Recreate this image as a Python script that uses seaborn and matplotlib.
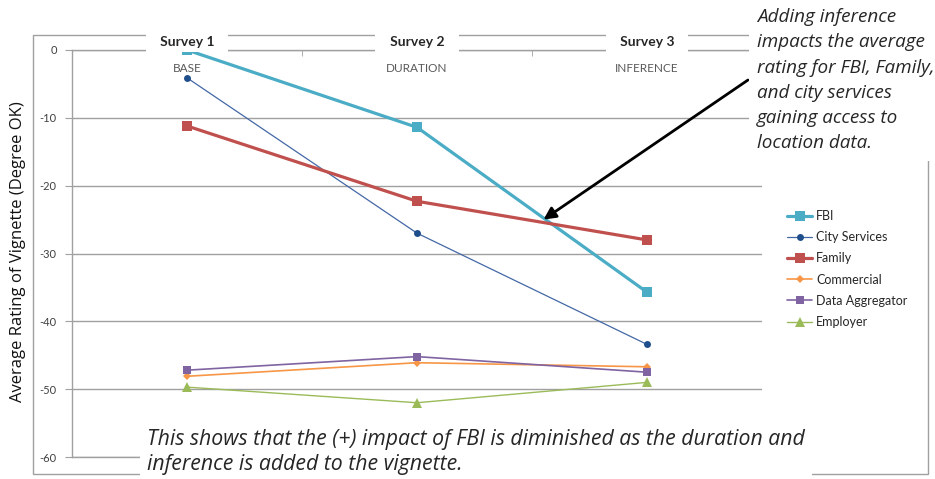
import matplotlib
matplotlib.use("Agg")
import matplotlib.pyplot as plt
import seaborn as sns
import pandas as pd
from matplotlib.patches import Rectangle

# data
categories = ["BASE", "DURATION", "INFERENCE"]
surveys = ["Survey 1", "Survey 2", "Survey 3"]
fbi = [0.0, -11.4, -35.7]
city_services = [-4.1, -27.0, -43.4]
family = [-11.2, -22.3, -28.0]
commercial = [-48.1, -46.1, -46.7]
data_aggregator = [-47.2, -45.2, -47.5]
employer = [-49.7, -52.0, -49.0]
series_names = ["FBI", "City Services", "Family", "Commercial", "Data Aggregator", "Employer"]
series_values = [fbi, city_services, family, commercial, data_aggregator, employer]

styles = {
    "FBI": dict(color="#4BACC6", mfc="#4BACC6", marker="s", ms=6.5, lw=2.3),
    "City Services": dict(color="#4468A6", mfc="#1F4E8C", marker="o", ms=5.0, lw=0.9),
    "Family": dict(color="#C0504D", mfc="#C0504D", marker="s", ms=6.5, lw=2.3),
    "Commercial": dict(color="#F79646", mfc="#F79646", marker="D", ms=4.5, lw=1.2),
    "Data Aggregator": dict(color="#8064A2", mfc="#8064A2", marker="s", ms=6.0, lw=1.2),
    "Employer": dict(color="#9BBB59", mfc="#9BBB59", marker="^", ms=6.5, lw=1.0),
}

sns.set_style("white")
plt.rcParams["font.family"] = ["Lato", "DejaVu Sans"]
plt.rcParams["axes.unicode_minus"] = False

W, H = 935, 479
fig = plt.figure(figsize=(W / 100, H / 100), dpi=100)
ax = fig.add_axes([72 / W, 22 / H, 690 / W, 407 / H])
ax.patch.set_alpha(0)

grey = "#a0a0a0"

for name, vals in zip(series_names, series_values):
    st = styles[name]
    df = pd.DataFrame({"stage": categories, "rating": vals})
    sns.lineplot(data=df, x="stage", y="rating", sort=False, ax=ax, label=name,
                 color=st["color"], linewidth=st["lw"], marker=st["marker"],
                 markersize=st["ms"], markerfacecolor=st["mfc"],
                 markeredgecolor=st["mfc"], markeredgewidth=0, zorder=3)

ax.set_xlim(-0.5, 2.5)
ax.set_ylim(-60, 0)
ax.set_yticks(range(-60, 1, 10))
ax.yaxis.grid(True, color=grey, linewidth=1)
ax.set_axisbelow(True)
for side in ["left", "bottom", "top"]:
    ax.spines[side].set_color(grey)
    ax.spines[side].set_linewidth(1)
ax.spines["right"].set_visible(False)

ax.tick_params(axis="y", left=True, length=5, color=grey, labelsize=8,
               labelcolor="#404040", pad=6)
ax.set_xticks(range(len(categories)), categories)
ax.set_xticks([0.5, 1.5], minor=True)
ax.tick_params(axis="x", which="major", bottom=False, labelbottom=False,
               top=False, labeltop=True, length=0, pad=-17,
               labelsize=8.5, labelcolor="#595959")
ax.tick_params(axis="x", which="minor", bottom=False, top=True,
               direction="in", length=4, color=grey)
ax.set_xlabel("")
ax.set_ylabel("")

fig.text(18 / W, 1 - 252 / H, "Average Rating of Vignette (Degree OK)",
         rotation=90, ha="center", va="center", fontsize=12, color="#111111",
         family=["Open Sans", "DejaVu Sans"], zorder=5,
         bbox=dict(facecolor="white", edgecolor="none", pad=3))

# survey headers over the top line
for i, s in enumerate(surveys):
    ax.text(i, 1 + 8 / 407, "   " + s + "   ", transform=ax.get_xaxis_transform(),
            ha="center", va="center", fontsize=10, fontweight="bold",
            zorder=6, clip_on=False,
            bbox=dict(boxstyle="square,pad=0.3", facecolor="white", edgecolor="none"))

leg = ax.legend(loc="upper left", bbox_to_anchor=(776 / W, 1 - 199 / H),
                bbox_transform=fig.transFigure, frameon=False, fontsize=9,
                handlelength=2.0, handletextpad=0.3, labelspacing=0.73)

# outer frame, partly hidden by the text boxes
fig.add_artist(Rectangle((33 / W, 1 - 474 / H), (928 - 33) / W, (474 - 35) / H,
                         transform=fig.transFigure, fill=False,
                         edgecolor=grey, linewidth=1, zorder=-1))

fig.text(757 / W, 1 - 8 / H,
         "Adding inference\nimpacts the average\nrating for FBI, Family,\n"
         "and city services\ngaining access to\nlocation data.",
         ha="left", va="top", fontsize=13.6, style="italic", linespacing=1.52,
         family=["Open Sans", "DejaVu Sans"], zorder=5,
         bbox=dict(boxstyle="square,pad=0.45", facecolor="white", edgecolor="none"))

ax.annotate("", xy=(1.55, -25.0), xytext=(748 / W, 1 - 80 / H),
            xycoords="data", textcoords="figure fraction",
            arrowprops=dict(arrowstyle="-|>", color="black", lw=2,
                            mutation_scale=18, shrinkA=0, shrinkB=0),
            zorder=7, annotation_clip=False)

fig.text(147 / W, 1 - 452 / H,
         "This shows that the (+) impact of FBI is diminished as the duration and\n"
         "inference is added to the vignette.",
         ha="left", va="center", fontsize=15.3, style="italic", linespacing=1.2,
         family=["Open Sans", "DejaVu Sans"], zorder=5,
         bbox=dict(boxstyle="square,pad=0.35", facecolor="white", edgecolor="none"))

fig.savefig("out.png", dpi=100)
